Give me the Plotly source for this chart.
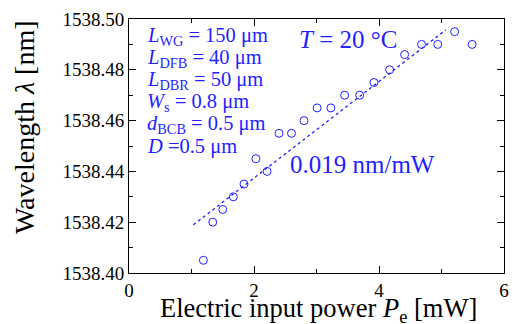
import plotly.graph_objects as go

power_mw = [1.19, 1.34, 1.50, 1.67, 1.84, 2.03, 2.21, 2.40, 2.60, 2.80, 3.01,
            3.23, 3.45, 3.69, 3.92, 4.17, 4.41, 4.68, 4.94, 5.21, 5.49]
wavelength_nm = [1538.405, 1538.420, 1538.425, 1538.430, 1538.435, 1538.445,
                 1538.440, 1538.455, 1538.455, 1538.460, 1538.465, 1538.465,
                 1538.470, 1538.470, 1538.475, 1538.480, 1538.486, 1538.490,
                 1538.490, 1538.495, 1538.490]
fit_x = [1.03, 5.07]
fit_slope = 0.019
fit_intercept = 1538.3994
fit_y = [fit_intercept + fit_slope * x for x in fit_x]

params = ["<i>L</i><sub>WG</sub> = 150 μm",
          "<i>L</i><sub>DFB</sub> = 40 μm",
          "<i>L</i><sub>DBR</sub> = 50 μm",
          "<i>W</i><sub>s</sub> = 0.8 μm",
          "<i>d</i><sub>BCB</sub> = 0.5 μm",
          "<i>D</i> =0.5 μm"]

BLUE = "#1f1fff"
FONT = "Liberation Serif"

fig = go.Figure()
fig.add_trace(go.Scatter(x=fit_x, y=fit_y, mode="lines",
                         line=dict(color=BLUE, width=1.3, dash="dot"),
                         showlegend=False))
fig.add_trace(go.Scatter(x=power_mw, y=wavelength_nm, mode="markers",
                         marker=dict(symbol="circle-open", size=8,
                                     color=BLUE, line=dict(width=1)),
                         showlegend=False))

axis_common = dict(showline=True, linecolor="black", linewidth=1, mirror="ticks",
                   ticks="inside", ticklen=7, tickcolor="black", showgrid=False,
                   zeroline=False, automargin=False,
                   tickfont=dict(family=FONT, size=19, color="black"))

fig.update_xaxes(range=[0, 6], dtick=2, tick0=0,
                 minor=dict(dtick=1, ticks="inside", ticklen=4, tickcolor="black"),
                 **axis_common)
fig.update_yaxes(range=[1538.40, 1538.50], dtick=0.02, tick0=1538.40, tickformat=".2f",
                 minor=dict(dtick=0.01, ticks="inside", ticklen=4, tickcolor="black"),
                 **axis_common)

# axis titles as annotations for precise placement
fig.add_annotation(x=0.505, y=-0.145, xref="paper", yref="paper", xanchor="center",
                   yanchor="middle", showarrow=False,
                   text="Electric input power <i>P</i><sub>e</sub> [mW]",
                   font=dict(family=FONT, size=26.5, color="black"))
fig.add_annotation(x=-0.277, y=0.575, xref="paper", yref="paper", xanchor="center",
                   yanchor="middle", showarrow=False, textangle=-90,
                   text="Wavelength <i>λ</i> [nm]",
                   font=dict(family=FONT, size=28, color="black"))

p_top = 1538.4932
p_step = 0.0087
for i, t in enumerate(params):
    fig.add_annotation(x=0, y=p_top - i * p_step, xref="x", yref="y", xanchor="left",
                       xshift=16, yanchor="middle", text=t, showarrow=False,
                       font=dict(family=FONT, size=20.5, color=BLUE))

fig.add_annotation(x=3.5, y=1538.4919, xref="x", yref="y", text="<i>T</i> = 20 °C",
                   showarrow=False, font=dict(family=FONT, size=25, color=BLUE))
fig.add_annotation(x=3.74, y=1538.4426, xref="x", yref="y", text="0.019 nm/mW",
                   showarrow=False, font=dict(family=FONT, size=25, color=BLUE))

fig.update_layout(width=516, height=324, margin=dict(l=129, r=12, t=19, b=51),
                  plot_bgcolor="white", paper_bgcolor="white")

fig.write_html("out.html", config={"displayModeBar": False},
               post_script="document.body.style.margin='0';document.body.style.overflow='hidden';")
